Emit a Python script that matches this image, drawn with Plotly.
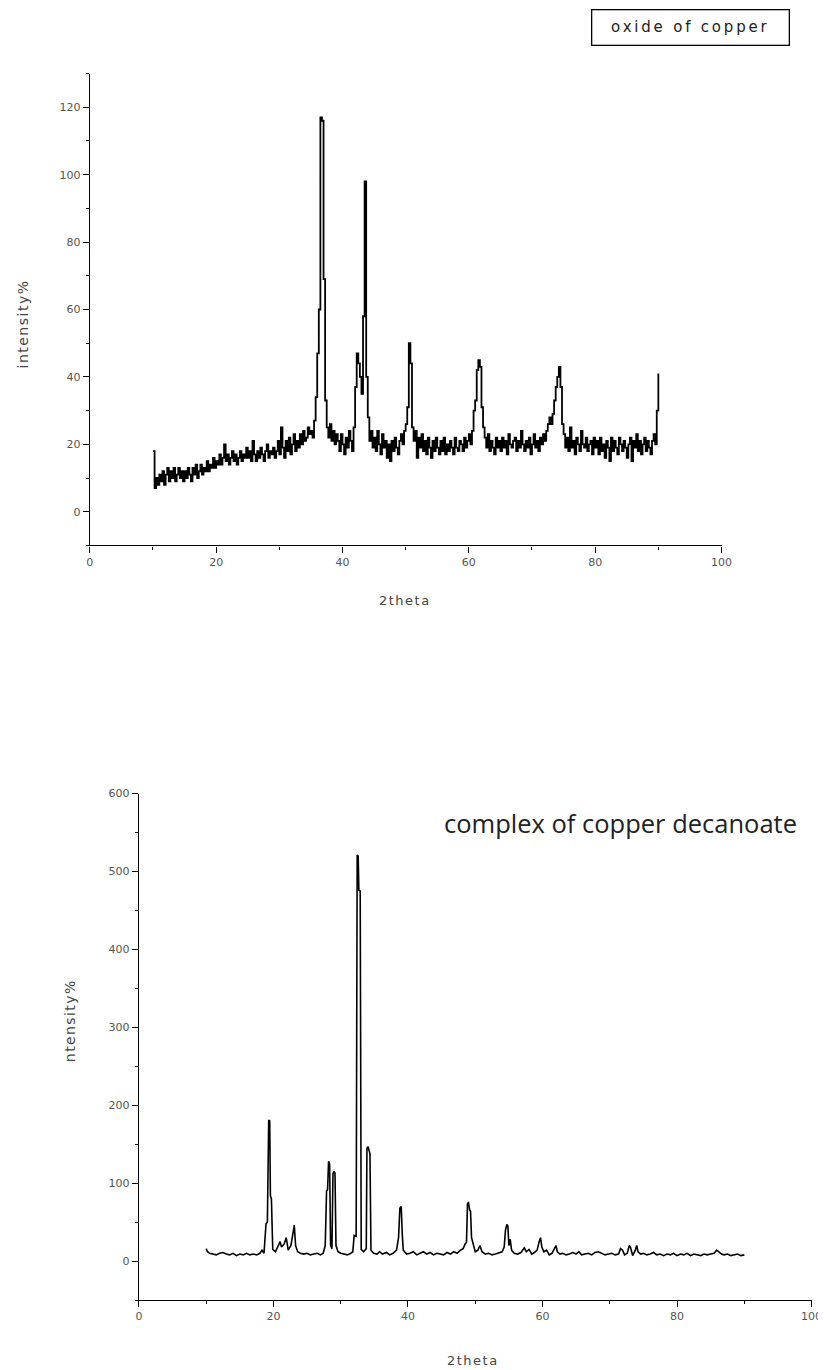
import plotly.graph_objects as go

# ---------------- data: oxide of copper (top) ----------------
x1_start = 10.0
x1_step = 0.25
y1 = [
    18, 7, 10, 8, 11, 9, 12, 8, 11, 13, 9, 12, 10, 13, 9, 11, 13, 10, 12, 9,
    12, 10, 13, 11, 9, 13, 11, 14, 10, 12, 14, 11, 13, 12, 15, 12, 14, 13, 16, 13,
    15, 14, 17, 14, 16, 20, 15, 17, 14, 16, 18, 15, 17, 14, 16, 18, 15, 17, 16, 19,
    16, 18, 15, 21, 17, 15, 18, 16, 19, 17, 15, 18, 20, 16, 18, 17, 19, 16, 18, 21,
    17, 25, 19, 16, 21, 18, 22, 17, 20, 23, 18, 21, 19, 23, 20, 24, 21, 22, 25, 23,
    24, 22, 27, 34, 47, 60, 117, 116, 69, 33, 25, 22, 26, 21, 24, 20, 23, 21, 18, 23,
    20, 17, 22, 19, 24, 21, 18, 25, 37, 47, 44, 40, 35, 58, 98, 40, 28, 21, 24, 19,
    22, 18, 24, 20, 17, 23, 19, 21, 16, 20, 15, 21, 18, 22, 19, 17, 21, 23, 20, 24,
    26, 31, 50, 44, 25, 21, 24, 16, 22, 19, 23, 18, 21, 17, 22, 19, 16, 21, 18, 22,
    19, 17, 21, 18, 22, 17, 20, 18, 21, 19, 17, 22, 19, 18, 21, 20, 18, 22, 19, 21,
    23, 20, 24, 30, 33, 42, 45, 43, 31, 25, 22, 19, 23, 18, 21, 19, 17, 22, 19, 21,
    18, 22, 19, 21, 17, 23, 20, 19, 21, 22, 18, 21, 19, 24, 20, 18, 21, 19, 22, 17,
    20, 23, 19, 21, 18, 22, 20, 23, 21, 24, 26, 28, 26, 29, 33, 37, 40, 43, 37, 26,
    23, 19, 22, 18, 25, 19, 21, 17, 22, 20, 18, 24, 20, 19, 22, 18, 20, 21, 17, 22,
    19, 21, 17, 22, 18, 20, 16, 21, 19, 15, 22, 18, 21, 19, 17, 22, 20, 18, 21, 19,
    16, 20, 22, 15, 21, 19, 23, 18, 21, 17, 20, 22, 18, 21, 19, 17, 21, 23, 20, 30,
    41,
]
x1 = [x1_start + i * x1_step for i in range(len(y1))]

# ---------------- data: complex of copper decanoate (bottom) ----------------
x2 = [
    10.0, 10.2, 10.5, 11.0, 11.5, 12.0, 12.5, 13.0, 13.5, 14.0, 14.5, 15.0, 15.5, 16.0, 16.5,
    17.0, 17.5, 18.0, 18.3, 18.6, 18.9, 19.1, 19.3, 19.45, 19.55, 19.7, 19.9, 20.3, 20.7, 21.0,
    21.2, 21.6, 21.9, 22.2, 22.6, 22.9, 23.1, 23.3, 23.6, 24.0, 24.5, 25.0, 25.5, 26.0, 26.5,
    27.0, 27.4, 27.7, 27.9, 28.05, 28.2, 28.35, 28.5, 28.7, 28.85, 29.0, 29.15, 29.3, 29.6, 30.0,
    30.5, 31.0, 31.5, 31.8, 32.0, 32.3, 32.45, 32.6, 32.7, 32.9, 33.05, 33.4, 33.8, 33.9, 34.05,
    34.2, 34.35, 34.5, 34.9, 35.4, 35.8, 36.2, 36.8, 37.3, 37.8, 38.3, 38.6, 38.8, 39.0, 39.15,
    39.3, 39.8, 40.3, 40.8, 41.3, 41.8, 42.3, 42.8, 43.3, 43.8, 44.3, 44.8, 45.3, 45.8, 46.3,
    46.8, 47.3, 47.8, 48.2, 48.5, 48.7, 48.85, 49.0, 49.15, 49.3, 49.45, 49.7, 50.0, 50.4, 50.7,
    51.0, 51.5, 52.0, 52.5, 53.0, 53.5, 54.0, 54.3, 54.5, 54.7, 54.85, 55.0, 55.2, 55.4, 55.8,
    56.3, 56.8, 57.3, 57.6, 58.0, 58.4, 58.8, 59.2, 59.5, 59.7, 59.9, 60.2, 60.6, 61.0, 61.4,
    61.8, 62.0, 62.2, 62.6, 63.0, 63.5, 64.0, 64.5, 65.0, 65.4, 65.8, 66.3, 66.8, 67.3, 67.8,
    68.3, 68.8, 69.3, 69.8, 70.3, 70.8, 71.3, 71.6, 71.9, 72.2, 72.6, 72.9, 73.1, 73.4, 73.8,
    74.0, 74.2, 74.6, 75.0, 75.5, 76.0, 76.5, 77.0, 77.5, 78.0, 78.5, 79.0, 79.5, 80.0, 80.5,
    81.0, 81.5, 82.0, 82.5, 83.0, 83.5, 84.0, 84.5, 85.0, 85.5, 85.9, 86.2, 86.6, 87.0, 87.5,
    88.0, 88.5, 89.0, 89.5, 90.0,
]
y2 = [
    16, 12, 10, 9, 8, 10, 11, 9, 8, 10, 7, 9, 8, 10, 8,
    9, 8, 10, 14, 10, 48, 50, 181, 180, 84, 80, 15, 12, 19, 25,
    18, 22, 30, 14, 20, 38, 46, 20, 12, 10, 9, 10, 8, 9, 10,
    8, 10, 20, 90, 92, 128, 125, 20, 16, 112, 115, 113, 20, 12, 10,
    9, 8, 10, 12, 33, 32, 521, 520, 476, 475, 15, 12, 16, 145, 147,
    140, 138, 14, 10, 9, 12, 9, 11, 8, 10, 14, 30, 68, 70, 35,
    14, 9, 10, 12, 8, 10, 12, 9, 11, 8, 10, 9, 8, 11, 9,
    12, 10, 14, 16, 22, 24, 74, 75, 66, 64, 30, 20, 12, 14, 20,
    12, 9, 10, 8, 9, 11, 12, 18, 40, 47, 45, 20, 28, 14, 10,
    9, 11, 17, 12, 15, 9, 11, 14, 25, 30, 18, 12, 14, 8, 10,
    16, 20, 12, 9, 10, 8, 9, 11, 9, 12, 8, 9, 10, 8, 11,
    12, 10, 8, 9, 10, 8, 9, 16, 14, 8, 10, 20, 17, 7, 14,
    20, 12, 9, 10, 8, 9, 11, 8, 9, 7, 9, 8, 10, 7, 9,
    8, 10, 7, 9, 8, 7, 9, 8, 9, 10, 14, 12, 9, 8, 9,
    7, 8, 9, 7, 8,
]

# ---------------- text ----------------
legend_label = "oxide of copper"
bottom_label = "complex of copper decanoate"
x_title = "2theta"
y_title_top = "intensity%"
y_title_bottom = "ntensity%"

OFF = 8                # default body margin of the written page
W, H = 826, 1370


# wanted screen position -> figure fraction (empirical capture correction)
def px(R):
    page = (R - 2.4) / 0.982
    return (page - OFF) / W


def py(R):
    page = (R - 6.55) / 0.9948
    return 1 - (page - OFF) / H


def spaced(text, ls):
    return f"<span style='letter-spacing:{ls}px'>{text}</span>"


TICK_FONT = dict(family="DejaVu Sans, Liberation Sans, sans-serif", size=11, color="#555")

fig = go.Figure()
fig.add_trace(go.Scatter(x=x1, y=y1, mode="lines", line=dict(color="black", width=1.8, shape="hv"),
                         xaxis="x", yaxis="y", showlegend=False))
fig.add_trace(go.Scatter(x=x2, y=y2, mode="lines", line=dict(color="black", width=1.6),
                         xaxis="x2", yaxis="y2", showlegend=False))


def axis_style(rng, dtick, minor_dtick, domain, anchor):
    return dict(
        range=rng, domain=domain, anchor=anchor,
        showline=True, linecolor="black", linewidth=1.3,
        showgrid=False, zeroline=False,
        ticks="outside", ticklen=6, tickwidth=1.3, tickcolor="black",
        tick0=0, dtick=dtick,
        minor=dict(ticks="outside", ticklen=3, tickwidth=1.3, tickcolor="black",
                   dtick=minor_dtick, tick0=0, showgrid=False),
        tickfont=TICK_FONT,
    )


fig.update_layout(
    width=W, height=H,
    margin=dict(l=0, r=0, t=0, b=0),
    paper_bgcolor="white", plot_bgcolor="white",
    xaxis=axis_style([0, 100], 20, 10, [px(89), px(720)], "y"),
    yaxis=axis_style([-10, 130], 20, 10, [py(545.5), py(74)], "x"),
    xaxis2=axis_style([0, 100], 20, 10, [px(138), px(810)], "y2"),
    yaxis2=axis_style([-50, 600], 100, 50, [py(1299.5), py(793.5)], "x2"),
)

ann_font = dict(family="DejaVu Sans, Liberation Sans, sans-serif", size=13, color="#444")
fig.add_annotation(text=spaced(legend_label, 2.8), xref="paper", yref="paper",
                   x=px(689.5), y=py(28), xanchor="center", yanchor="middle",
                   showarrow=False, bordercolor="black", borderwidth=1.3,
                   width=194, height=32,
                   font=dict(family="DejaVu Sans, Liberation Sans, sans-serif", size=15, color="#222"))
fig.add_annotation(text=bottom_label, xref="paper", yref="paper",
                   x=px(619), y=py(823), xanchor="center", yanchor="middle",
                   showarrow=False,
                   font=dict(family="Open Sans, sans-serif", size=25.5, color="#222"))
fig.add_annotation(text=spaced(x_title, 1.5), xref="paper", yref="paper",
                   x=px(404), y=py(601), xanchor="center", yanchor="middle",
                   showarrow=False, font=ann_font)
fig.add_annotation(text=spaced(y_title_top, 1.5), xref="paper", yref="paper",
                   x=px(22), y=py(324), xanchor="center", yanchor="middle",
                   textangle=-90, showarrow=False, font=dict(ann_font, size=14))
fig.add_annotation(text=spaced(x_title, 1.5), xref="paper", yref="paper",
                   x=px(472), y=py(1360), xanchor="center", yanchor="middle",
                   showarrow=False, font=ann_font)
fig.add_annotation(text=spaced(y_title_bottom, 1.4), xref="paper", yref="paper",
                   x=px(70), y=py(1020), xanchor="center", yanchor="middle",
                   textangle=-90, showarrow=False, font=dict(ann_font, size=14))

fig.write_html("out.html")
